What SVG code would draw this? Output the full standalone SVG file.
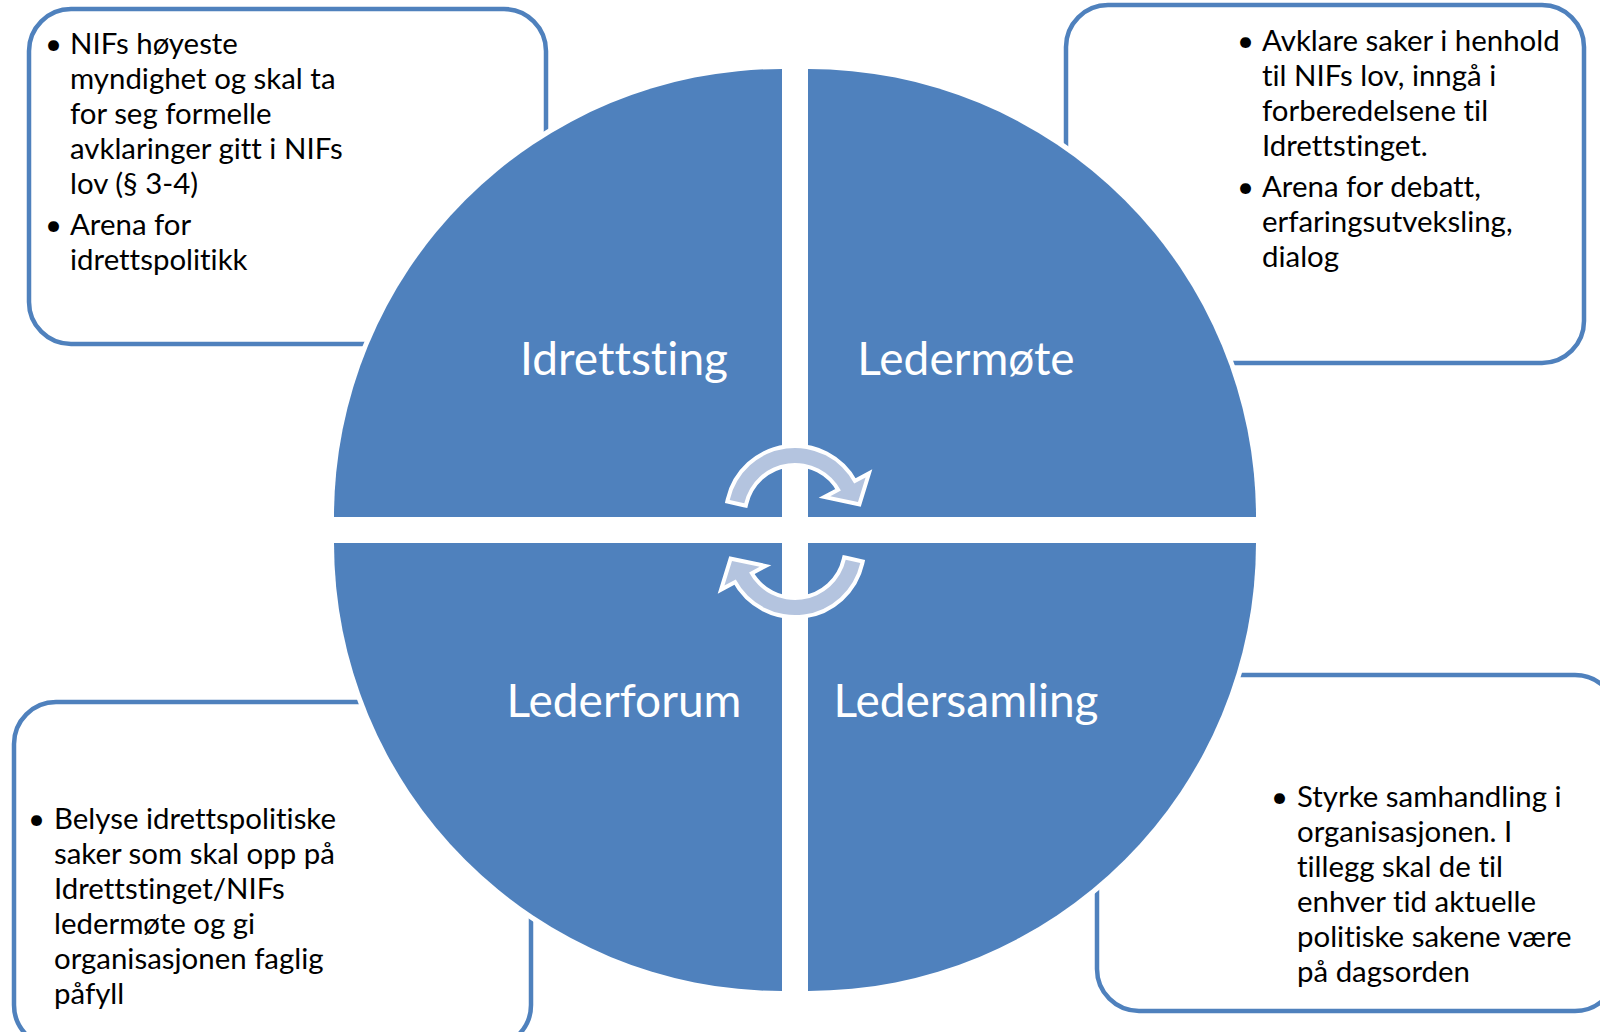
<svg xmlns="http://www.w3.org/2000/svg" width="1600" height="1032" viewBox="0 0 1600 1032">
<style>
text{font-variant-ligatures:none;font-feature-settings:"liga" 0,"clig" 0,"dlig" 0,"calt" 0;letter-spacing:0.01px}
.box{fill:#ffffff;stroke:#4F81BD;stroke-width:4.5}
.quad{fill:#4F81BD;stroke:#ffffff;stroke-width:10;paint-order:stroke}
.lbl{font-family:Lato,"Open Sans","Liberation Sans",sans-serif;font-size:46px;fill:#ffffff;text-anchor:middle}
.txt{font-family:Lato,"Open Sans","Liberation Sans",sans-serif;font-size:29.4px;fill:#000000}
.arrow{fill:#B4C4DF;stroke:#ffffff;stroke-width:8;stroke-linejoin:miter;paint-order:stroke}
</style>
<rect width="1600" height="1032" fill="#ffffff"/>
<g id="box-idrettsting">
<rect class="box" x="29" y="9" width="517" height="335" rx="42"/>
<text class="txt"><tspan x="45" y="54">•</tspan><tspan x="70" y="54">NIFs høyeste</tspan><tspan x="70" y="89">myndighet og skal ta</tspan><tspan x="70" y="124">for seg formelle</tspan><tspan x="70" y="159">avklaringer gitt i NIFs</tspan><tspan x="70" y="194">lov (§ 3-4)</tspan><tspan x="45" y="235">•</tspan><tspan x="70" y="235">Arena for</tspan><tspan x="70" y="270">idrettspolitikk</tspan></text>
</g>
<g id="box-ledermote">
<rect class="box" x="1066" y="5" width="518" height="358" rx="42"/>
<text class="txt"><tspan x="1237" y="51">•</tspan><tspan x="1262" y="51">Avklare saker i henhold</tspan><tspan x="1262" y="86">til NIFs lov, inngå i</tspan><tspan x="1262" y="121">forberedelsene til</tspan><tspan x="1262" y="156">Idrettstinget.</tspan><tspan x="1237" y="197">•</tspan><tspan x="1262" y="197">Arena for debatt,</tspan><tspan x="1262" y="232">erfaringsutveksling,</tspan><tspan x="1262" y="267">dialog</tspan></text>
</g>
<g id="box-lederforum">
<rect class="box" x="14" y="702" width="517" height="345" rx="42"/>
<text class="txt"><tspan x="28" y="829">•</tspan><tspan x="54" y="829">Belyse idrettspolitiske</tspan><tspan x="54" y="864">saker som skal opp på</tspan><tspan x="54" y="899">Idrettstinget/NIFs</tspan><tspan x="54" y="934">ledermøte og gi</tspan><tspan x="54" y="969">organisasjonen faglig</tspan><tspan x="54" y="1004">påfyll</tspan></text>
</g>
<g id="box-ledersamling">
<rect class="box" x="1097" y="675" width="520" height="336" rx="42"/>
<text class="txt"><tspan x="1271" y="807">•</tspan><tspan x="1297" y="807">Styrke samhandling i</tspan><tspan x="1297" y="842">organisasjonen. I</tspan><tspan x="1297" y="877">tillegg skal de til</tspan><tspan x="1297" y="912">enhver tid aktuelle</tspan><tspan x="1297" y="947">politiske sakene være</tspan><tspan x="1297" y="982">på dagsorden</tspan></text>
</g>
<g id="node-idrettsting">
<path class="quad" d="M782,517 L334,517 A448,448 0 0 1 782,69 Z"/>
<text class="lbl" x="624" y="375">Idrettsting</text>
</g>
<g id="node-ledermote">
<path class="quad" d="M808,517 L808,69 A448,448 0 0 1 1256,517 Z"/>
<text class="lbl" x="966" y="375">Ledermøte</text>
</g>
<g id="node-lederforum">
<path class="quad" d="M782,543 L782,991 A448,448 0 0 1 334,543 Z"/>
<text class="lbl" x="624" y="717">Lederforum</text>
</g>
<g id="node-ledersamling">
<path class="quad" d="M808,543 L1256,543 A448,448 0 0 1 808,991 Z"/>
<text class="lbl" x="966" y="717">Ledersamling</text>
</g>
<g id="connectors">
<path id="arrow-top" class="arrow" d="M744.3,503.3 L729.7,499.9 A67,67 0 0 1 854.2,483.5 L865.6,477.4 L858,502 L830.3,496.2 L840.9,490.6 A52,52 0 0 0 744.3,503.3 Z"/>
<path id="arrow-bottom" class="arrow" transform="rotate(180 795 531.5)" d="M744.3,503.3 L729.7,499.9 A67,67 0 0 1 854.2,483.5 L865.6,477.4 L858,502 L830.3,496.2 L840.9,490.6 A52,52 0 0 0 744.3,503.3 Z"/>
</g>
</svg>
